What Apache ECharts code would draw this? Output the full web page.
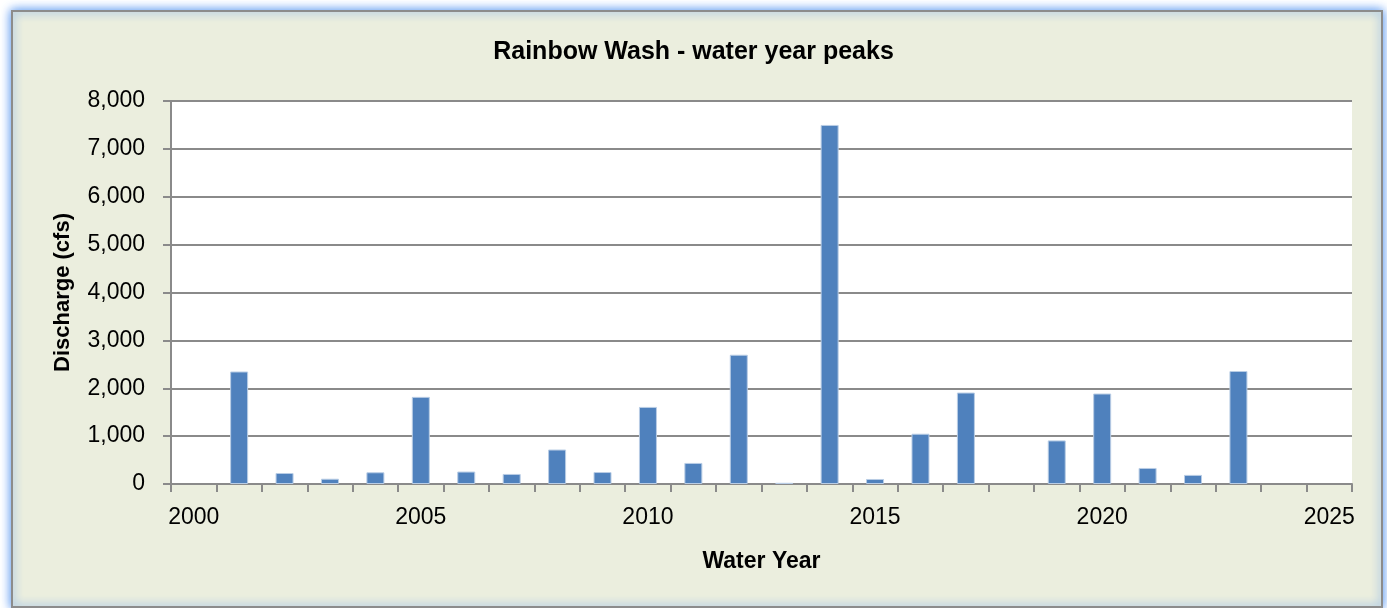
<!DOCTYPE html>
<html>
<head>
<meta charset="utf-8">
<script src="https://cdn.jsdelivr.net/npm/echarts@6/dist/echarts.min.js"></script>
<style>
html,body{margin:0;padding:0;background:#ffffff;}
#chart{width:1387px;height:608px;}
</style>
</head>
<body>
<div id="chart"></div>
<script>
const years = ['2000','2001','2002','2003','2004','2005','2006','2007','2008','2009','2010','2011','2012','2013','2014','2015','2016','2017','2018','2019','2020','2021','2022','2023','2024','2025'];
const peaks = [null,2350,230,110,245,1820,260,210,720,250,1610,440,2700,25,7500,105,1050,1910,null,910,1890,335,190,2360,null,null];
const yTicks = [0,1000,2000,3000,4000,5000,6000,7000,8000];

const chart = echarts.init(document.getElementById('chart'), null, {renderer:'canvas'});
const font = 'Liberation Sans, Arial, sans-serif';
const grayLine = '#8a8a8a';
chart.setOption({
  animation:false,
  backgroundColor:'#ffffff',
  graphic:[{
    type:'rect', z:-10, silent:true,
    shape:{x:12,y:11,width:1370,height:596},
    style:{fill:'#EBEEDE',stroke:'#8c8c8c',lineWidth:2,shadowBlur:10,shadowColor:'rgba(70,140,240,1)'}
  }],
  title:{
    text:'Rainbow Wash - water year peaks',
    left:'center', top:35,
    textStyle:{fontFamily:font,fontSize:25,fontWeight:'bold',color:'#000'}
  },
  grid:{left:171,right:35,top:101,bottom:124,show:true,backgroundColor:'#ffffff',borderWidth:0},
  xAxis:{
    type:'category',
    data:years,
    boundaryGap:true,
    name:'Water Year',
    nameLocation:'middle',
    nameGap:66,
    nameTextStyle:{fontFamily:font,fontSize:23,fontWeight:'bold',color:'#000'},
    axisLine:{lineStyle:{color:grayLine,width:2}},
    axisTick:{show:true,interval:0,length:8,alignWithLabel:false,lineStyle:{color:grayLine,width:2}},
    axisLabel:{interval:4,margin:22,fontFamily:font,fontSize:23,color:'#000'},
    splitLine:{show:false}
  },
  yAxis:{
    type:'value',
    min:yTicks[0], max:yTicks[yTicks.length-1], interval:1000,
    name:'Discharge (cfs)',
    nameLocation:'middle',
    nameGap:97,
    nameRotate:90,
    nameTextStyle:{fontFamily:font,fontSize:22,fontWeight:'bold',color:'#000'},
    axisLine:{show:true,lineStyle:{color:grayLine,width:2}},
    axisTick:{show:true,length:8,lineStyle:{color:grayLine,width:2}},
    axisLabel:{margin:26,fontFamily:font,fontSize:23,color:'#000',
      formatter:v=>v.toLocaleString('en-US')},
    splitLine:{show:true,lineStyle:{color:grayLine,width:2}}
  },
  series:[{
    type:'bar',
    data:peaks,
    barWidth:18,
    itemStyle:{color:'#4F81BD',borderColor:'#B9CDE5',borderWidth:1}
  }]
});
</script>
</body>
</html>
